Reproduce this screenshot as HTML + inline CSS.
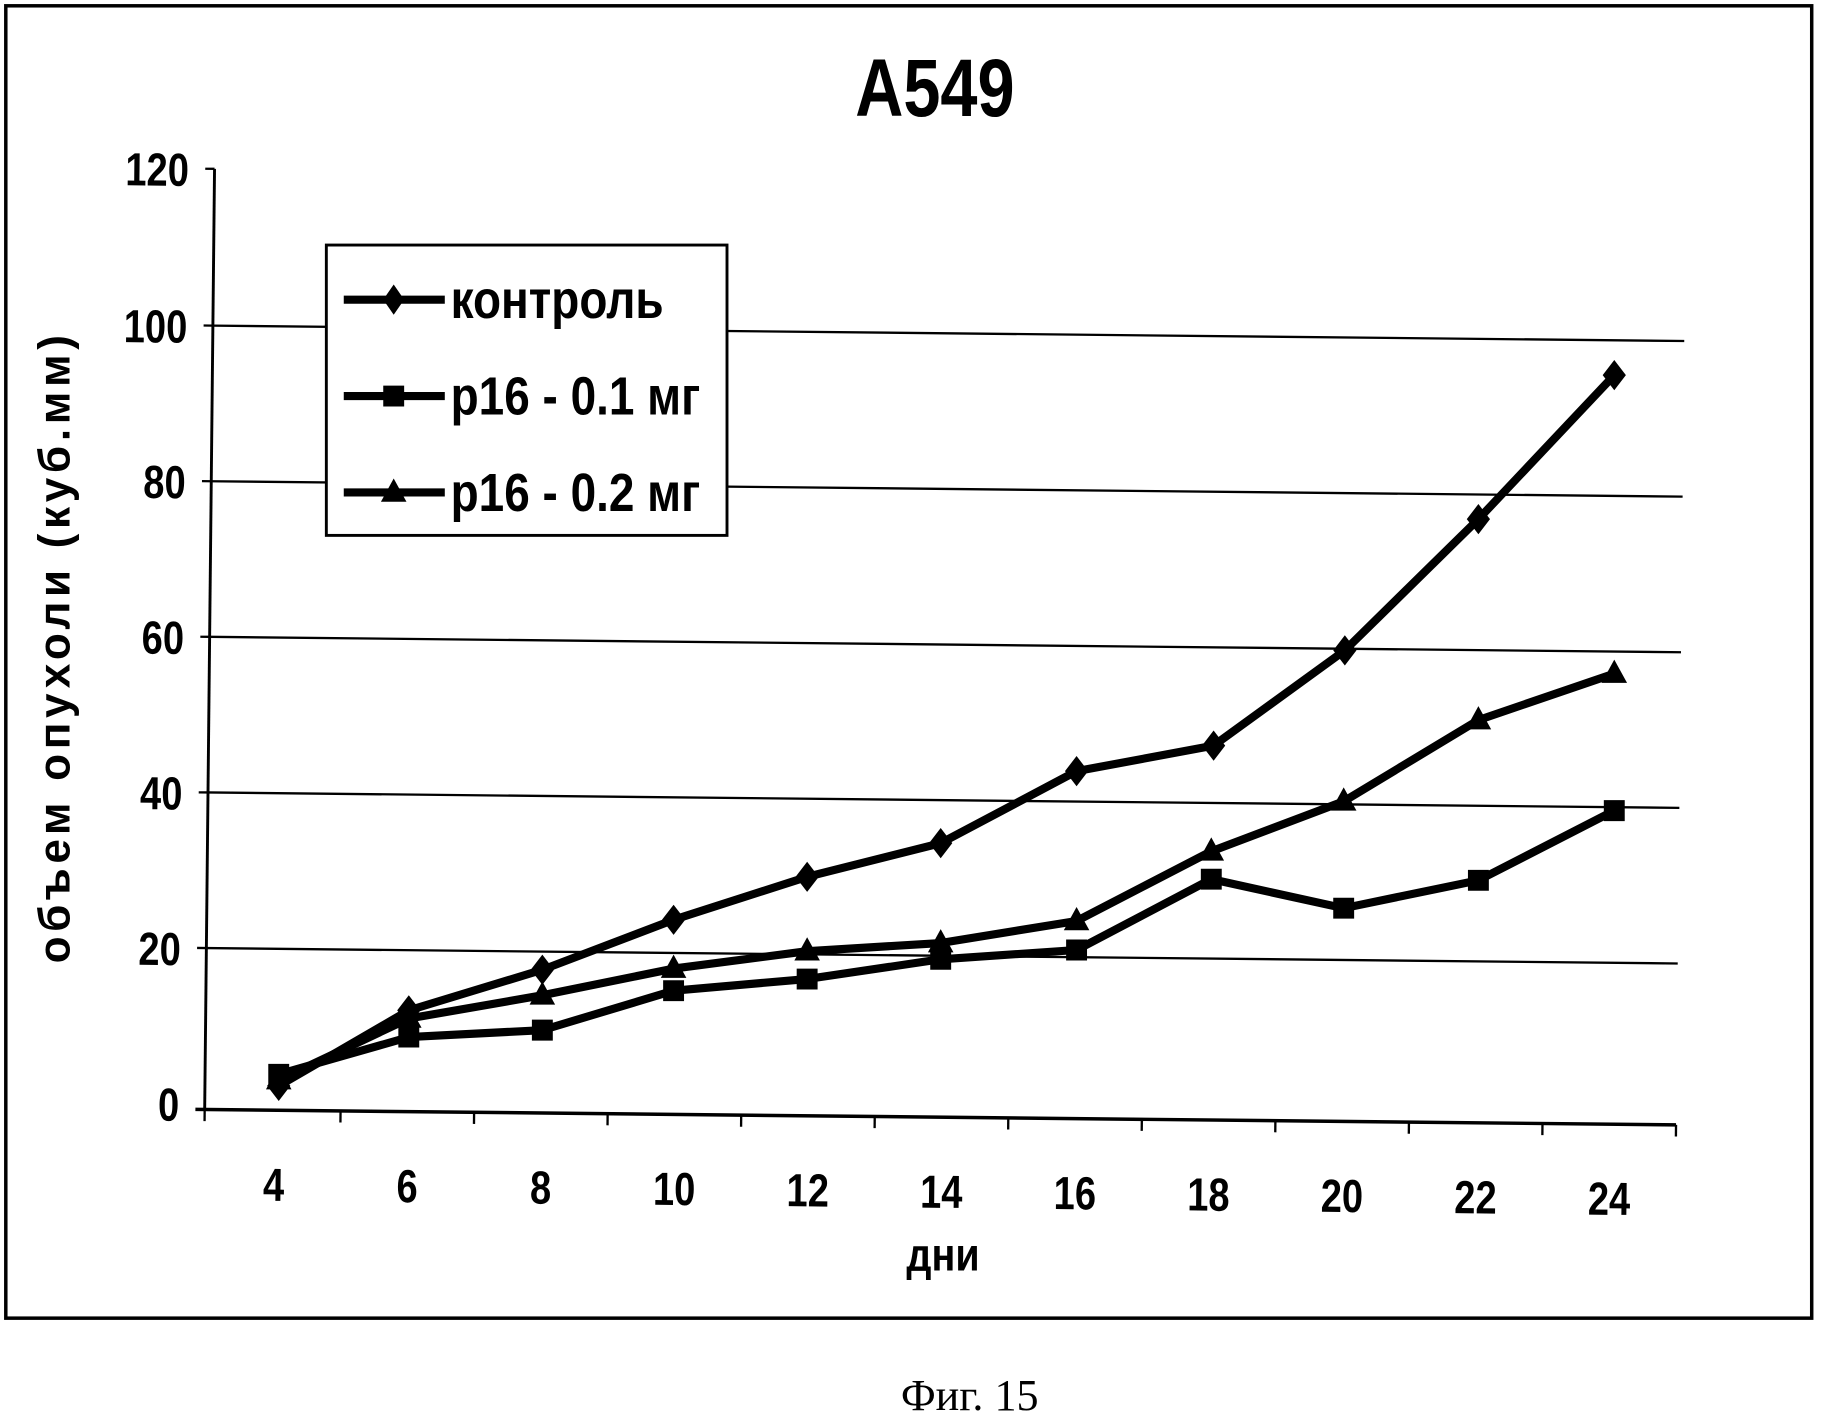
<!DOCTYPE html>
<html><head><meta charset="utf-8"><style>
html,body{margin:0;padding:0;background:#fff;}
svg{display:block;}
text{font-family:"Liberation Sans",sans-serif;font-weight:bold;fill:#000;}
</style></head><body>
<svg width="1821" height="1425" viewBox="0 0 1568 1227" preserveAspectRatio="none" xmlns="http://www.w3.org/2000/svg">
<rect x="5" y="5" width="1555" height="1130" fill="none" stroke="#000" stroke-width="3"/>
<text x="805" y="100" font-size="70" text-anchor="middle" transform="translate(805 0) scale(0.82 1) translate(-805 0)">A549</text>
<g transform="rotate(0.6 815 600)">
<g stroke="#000" stroke-width="2">
<line x1="180" y1="287" x2="1447" y2="287"/>
<line x1="180" y1="421" x2="1447" y2="421"/>
<line x1="180" y1="555" x2="1447" y2="555"/>
<line x1="180" y1="689" x2="1447" y2="689"/>
<line x1="180" y1="823" x2="1447" y2="823"/>
<line x1="180" y1="152" x2="180" y2="962" stroke-width="2.5"/>
<line x1="172" y1="962" x2="1447" y2="962" stroke-width="3"/>
<line x1="172" y1="152" x2="180" y2="152"/><line x1="172" y1="287" x2="180" y2="287"/><line x1="172" y1="421" x2="180" y2="421"/><line x1="172" y1="555" x2="180" y2="555"/><line x1="172" y1="689" x2="180" y2="689"/><line x1="172" y1="823" x2="180" y2="823"/>
<line x1="180" y1="962" x2="180" y2="972"/><line x1="297" y1="962" x2="297" y2="972"/><line x1="412" y1="962" x2="412" y2="972"/><line x1="527" y1="962" x2="527" y2="972"/><line x1="642" y1="962" x2="642" y2="972"/><line x1="757" y1="962" x2="757" y2="972"/><line x1="872" y1="962" x2="872" y2="972"/><line x1="987" y1="962" x2="987" y2="972"/><line x1="1102" y1="962" x2="1102" y2="972"/><line x1="1217" y1="962" x2="1217" y2="972"/><line x1="1332" y1="962" x2="1332" y2="972"/><line x1="1447" y1="962" x2="1447" y2="972"/>
</g>
<g font-size="40" text-anchor="end" transform="translate(158 0) scale(0.82 1) translate(-158 0)">
<text x="158" y="167">120</text><text x="158" y="302">100</text><text x="158" y="436">80</text><text x="158" y="570">60</text><text x="158" y="704">40</text><text x="158" y="838">20</text><text x="158" y="972">0</text>
</g>
<g font-size="40" text-anchor="middle">
<text transform="translate(240 1040) scale(0.82 1)">4</text><text transform="translate(355 1040) scale(0.82 1)">6</text><text transform="translate(470 1040) scale(0.82 1)">8</text><text transform="translate(585 1040) scale(0.82 1)">10</text><text transform="translate(700 1040) scale(0.82 1)">12</text><text transform="translate(815 1040) scale(0.82 1)">14</text><text transform="translate(930 1040) scale(0.82 1)">16</text><text transform="translate(1045 1040) scale(0.82 1)">18</text><text transform="translate(1160 1040) scale(0.82 1)">20</text><text transform="translate(1275 1040) scale(0.82 1)">22</text><text transform="translate(1390 1040) scale(0.82 1)">24</text>
</g>
</g>
<g fill="none" stroke="#000" stroke-width="7" stroke-linejoin="round">
<polyline points="240,935 352,870 467,835 580,792 695,755 810,726 927,664 1045,642 1158,560 1273,447 1390,323"/>
<polyline points="240,925 352,893 467,887 580,853 695,843 810,826 927,818 1043,757 1157,782 1273,758 1390,698"/>
<polyline points="240,930 352,877 467,857 580,834 695,819 810,812 927,793 1043,733 1157,690 1273,620 1390,580"/>
</g>
<g fill="#000">
<path d="M240 922l10 13-10 13-10-13zM352 857l10 13-10 13-10-13zM467 822l10 13-10 13-10-13zM580 779l10 13-10 13-10-13zM695 742l10 13-10 13-10-13zM810 713l10 13-10 13-10-13zM927 651l10 13-10 13-10-13zM1045 629l10 13-10 13-10-13zM1158 547l10 13-10 13-10-13zM1273 434l10 13-10 13-10-13zM1390 310l10 13-10 13-10-13z"/>
<path d="M231 916h18v18h-18zM343 884h18v18h-18zM458 878h18v18h-18zM571 844h18v18h-18zM686 834h18v18h-18zM801 817h18v18h-18zM918 809h18v18h-18zM1034 748h18v18h-18zM1148 773h18v18h-18zM1264 749h18v18h-18zM1381 689h18v18h-18z"/>
<path d="M240 918l11 20h-22zM352 865l11 20h-22zM467 845l11 20h-22zM580 822l11 20h-22zM695 807l11 20h-22zM810 800l11 20h-22zM927 781l11 20h-22zM1043 721l11 20h-22zM1157 678l11 20h-22zM1273 608l11 20h-22zM1390 568l11 20h-22z"/>
</g>
<text x="812" y="1094" font-size="40" text-anchor="middle" transform="translate(812 0) scale(0.85 1) translate(-812 0)">дни</text>
<text transform="translate(60 557) rotate(-90)" font-size="38" text-anchor="middle" letter-spacing="4">объем опухоли (куб.мм)</text>
<rect x="281" y="211" width="345" height="250" fill="#fff" stroke="#000" stroke-width="2.5"/>
<g stroke="#000" stroke-width="7"><line x1="296" y1="258" x2="383" y2="258"/><line x1="296" y1="341" x2="383" y2="341"/><line x1="296" y1="424" x2="383" y2="424"/></g>
<path d="M339 245l9 13-9 13-9-13z M330 332h18v18h-18z M339 412l11 20h-22z" fill="#000"/>
<g font-size="46" transform="translate(388 0) scale(0.86 1) translate(-388 0)"><text x="388" y="274">контроль</text><text x="388" y="357">p16 - 0.1 мг</text><text x="388" y="440">p16 - 0.2 мг</text></g>
<text x="835" y="1214" font-size="38" text-anchor="middle" style="font-family:'Liberation Serif',serif;font-weight:normal">Фиг. 15</text>
</svg>
</body></html>
